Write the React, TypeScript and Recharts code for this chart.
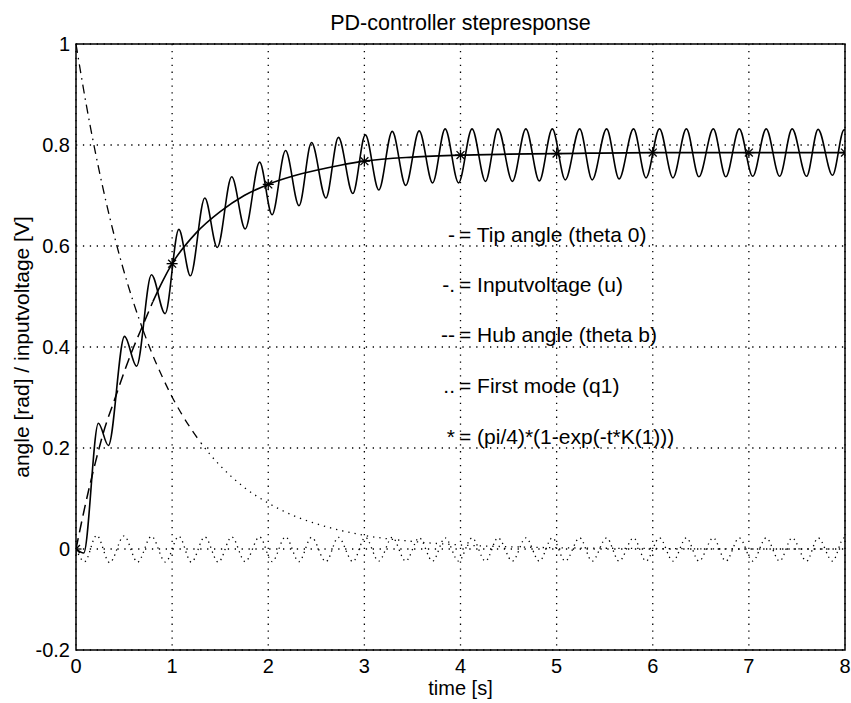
import React from 'react';
import { ComposedChart, Line, XAxis, YAxis, CartesianGrid, ReferenceArea } from 'recharts';

const W = 851;
const H = 703;
const FONT = '"Liberation Sans", Arial, Helvetica, sans-serif';

const xTicks = [0, 1, 2, 3, 4, 5, 6, 7, 8];
const yTicks = [-0.2, 0, 0.2, 0.4, 0.6, 0.8, 1];

// Tip angle (theta 0): start, then successive peaks / troughs
const tipTimes = [
  0, 0.08, 0.233, 0.337, 0.505, 0.63, 0.785, 0.927, 1.07, 1.19, 1.34, 1.47, 1.62, 1.76, 1.91, 2.04,
  2.18, 2.32, 2.45, 2.6, 2.73, 2.88, 3.01, 3.15, 3.29, 3.43, 3.57, 3.71, 3.84, 3.98, 4.12, 4.26,
  4.39, 4.54, 4.68, 4.82, 4.955, 5.09, 5.24, 5.37, 5.52, 5.65, 5.8, 5.93, 6.07, 6.21, 6.35, 6.48,
  6.63, 6.76, 6.9, 7.04, 7.18, 7.32, 7.45, 7.6, 7.72, 7.87, 7.99, 8.0,
];
const tipValues = [
  0, -0.008, 0.249, 0.205, 0.421, 0.362, 0.543, 0.466, 0.633, 0.541, 0.695, 0.597, 0.737, 0.634, 0.766, 0.662,
  0.789, 0.68, 0.805, 0.695, 0.815, 0.704, 0.82, 0.711, 0.827, 0.72, 0.828, 0.725, 0.832, 0.725, 0.832, 0.728,
  0.832, 0.728, 0.832, 0.729, 0.832, 0.731, 0.832, 0.731, 0.832, 0.733, 0.832, 0.735, 0.832, 0.735, 0.832, 0.737,
  0.832, 0.737, 0.832, 0.738, 0.832, 0.738, 0.832, 0.738, 0.831, 0.74, 0.83, 0.83,
];

// First mode (q1): start, then peaks / troughs
const q1Times = [
  0, 0.09, 0.215, 0.35, 0.5, 0.64, 0.785, 0.93, 1.07, 1.2, 1.34, 1.48, 1.62, 1.76, 1.91, 2.04,
  2.18, 2.32, 2.45, 2.6, 2.73, 2.88, 3.01, 3.15, 3.29, 3.43, 3.57, 3.71, 3.84, 3.98, 4.12, 4.26,
  4.39, 4.54, 4.68, 4.82, 4.955, 5.09, 5.24, 5.37, 5.52, 5.65, 5.8, 5.93, 6.07, 6.21, 6.35, 6.48,
  6.63, 6.76, 6.9, 7.04, 7.18, 7.32, 7.45, 7.6, 7.72, 7.87, 7.99, 8.0,
];
const q1Values = [
  0, -0.025, 0.027, -0.027, 0.026, -0.026, 0.025, -0.026, 0.025, -0.026, 0.024, -0.026, 0.024, -0.025, 0.024, -0.025,
  0.024, -0.025, 0.023, -0.025, 0.023, -0.025, 0.023, -0.024, 0.023, -0.024, 0.022, -0.024, 0.022, -0.024, 0.022, -0.024,
  0.022, -0.024, 0.022, -0.024, 0.022, -0.024, 0.022, -0.024, 0.022, -0.024, 0.022, -0.024, 0.022, -0.024, 0.022, -0.024,
  0.022, -0.024, 0.022, -0.024, 0.022, -0.024, 0.022, -0.024, 0.022, -0.024, 0.022, 0.021,
];

// Inputvoltage (u)
const inputTimes = [
  0, 0.1, 0.2, 0.3, 0.4, 0.5, 0.6, 0.7, 0.8, 0.9, 1, 1.1, 1.2, 1.3, 1.4, 1.5, 1.75, 2, 2.25, 2.5,
  2.75, 3, 3.5, 4, 4.5, 5, 6, 7, 8,
];
const inputValues = [
  1, 0.887, 0.787, 0.698, 0.619, 0.549, 0.487, 0.432, 0.383, 0.34, 0.301, 0.267, 0.237, 0.21, 0.186, 0.165, 0.122, 0.091, 0.067, 0.05,
  0.037, 0.027, 0.015, 0.008, 0.0045, 0.0025, 0.001, 0, 0,
];

// Hub angle (theta b)
const hubTimes = [
  0, 0.1, 0.2, 0.3, 0.4, 0.5, 0.6, 0.7, 0.8, 0.9, 1, 1.25, 1.5, 1.75, 2, 2.25, 2.5, 2.75, 3, 3.5,
  4, 4.5, 5, 6, 7, 8,
];
const hubValues = [
  0, 0.09, 0.17, 0.24, 0.295, 0.35, 0.4, 0.445, 0.49, 0.53, 0.565, 0.626, 0.668, 0.7, 0.722, 0.738, 0.75, 0.76, 0.768, 0.776,
  0.78, 0.782, 0.783, 0.785, 0.785, 0.785,
];

// (pi/4)*(1-exp(-t*K(1))) markers
const starTimes = [0, 1, 2, 3, 4, 5, 6, 7, 8];
const starValues = [0, 0.565, 0.722, 0.768, 0.78, 0.783, 0.785, 0.785, 0.785];

const legendPrefixes = ['-', '-.', '--', '..', '*'];
const legendTexts = [
  '= Tip angle (theta 0)',
  '= Inputvoltage (u)',
  '= Hub angle (theta b)',
  '= First mode (q1)',
  '= (pi/4)*(1-exp(-t*K(1)))',
];
const legendBaselines = [242, 292, 342, 393, 444];

const title = 'PD-controller stepresponse';
const xLabel = 'time [s]';
const yLabel = 'angle [rad] / inputvoltage [V]';

const pts = (ts: number[], vs: number[]) => ts.map((t, i) => ({ t, v: vs[i] }));

const tipData = pts(tipTimes, tipValues);
const q1Data = pts(q1Times, q1Values);
const inputData = pts(inputTimes, inputValues);
const hubData = pts(hubTimes, hubValues);
const starData = pts(starTimes, starValues);

const inputDashDot = inputData.filter((d) => d.t <= 0.7);
const inputDashed = inputData.filter((d) => d.t >= 0.7 && d.t <= 1.3);
const inputDotted = inputData.filter((d) => d.t >= 1.3);
const hubDashed = hubData.filter((d) => d.t <= 0.8);
const hubSolid = hubData.filter((d) => d.t >= 0.8);

const Asterisk = (props: any) => {
  const { cx, cy } = props;
  if (cx == null || cy == null) return null;
  const r = 5.5;
  const d = r * 0.72;
  return (
    <g stroke="#000" strokeWidth={1.3}>
      <line x1={cx - r} y1={cy} x2={cx + r} y2={cy} />
      <line x1={cx} y1={cy - r} x2={cx} y2={cy + r} />
      <line x1={cx - d} y1={cy - d} x2={cx + d} y2={cy + d} />
      <line x1={cx - d} y1={cy + d} x2={cx + d} y2={cy - d} />
    </g>
  );
};

const tickStyle = { fill: '#000', fontSize: 20, fontFamily: FONT };

export default function App() {
  return (
    <div style={{ position: 'absolute', left: 0, top: 0, width: W, height: H, background: '#fff' }}>
      <ComposedChart width={W} height={H} margin={{ top: 44, right: 6, bottom: 0, left: 0 }}>
        <CartesianGrid stroke="#000" strokeWidth={1.3} strokeDasharray="1.3 5.6" />
        <XAxis
          type="number"
          dataKey="t"
          domain={[0, 8]}
          ticks={xTicks}
          height={53}
          tickLine={false}
          axisLine={false}
          tickSize={0}
          tickMargin={9}
          tick={tickStyle}
          allowDataOverflow
        />
        <YAxis
          type="number"
          domain={[-0.2, 1]}
          ticks={yTicks}
          width={76}
          tickLine={false}
          axisLine={false}
          tickSize={0}
          tickMargin={6}
          tick={tickStyle}
          tickFormatter={(v: number) => String(v)}
          allowDataOverflow
        />
        <Line data={inputDashDot} dataKey="v" type="monotone" stroke="#000" strokeWidth={1.3} strokeDasharray="9 5 1.5 5" dot={false} activeDot={false} isAnimationActive={false} />
        <Line data={inputDashed} dataKey="v" type="monotone" stroke="#000" strokeWidth={1.3} strokeDasharray="8 6" dot={false} activeDot={false} isAnimationActive={false} />
        <Line data={inputDotted} dataKey="v" type="monotone" stroke="#000" strokeWidth={1.3} strokeDasharray="1.3 5" dot={false} activeDot={false} isAnimationActive={false} />
        <Line data={hubDashed} dataKey="v" type="monotone" stroke="#000" strokeWidth={1.5} strokeDasharray="11 6" dot={false} activeDot={false} isAnimationActive={false} />
        <Line data={hubSolid} dataKey="v" type="monotone" stroke="#000" strokeWidth={1.6} dot={false} activeDot={false} isAnimationActive={false} />
        <Line data={q1Data} dataKey="v" type="monotone" stroke="#000" strokeWidth={1.3} strokeDasharray="1.3 4" dot={false} activeDot={false} isAnimationActive={false} />
        <Line data={tipData} dataKey="v" type="monotone" stroke="#000" strokeWidth={1.6} dot={false} activeDot={false} isAnimationActive={false} />
        <Line
          data={starData}
          dataKey="v"
          stroke="none"
          dot={(p: any) => <Asterisk key={`s${p.index}`} {...p} />}
          activeDot={false}
          isAnimationActive={false}
        />
        <ReferenceArea x1={0} x2={8} y1={-0.2} y2={1} fill="none" stroke="#000" strokeWidth={1.5} fillOpacity={0} />
      </ComposedChart>
      <svg width={W} height={H} style={{ position: 'absolute', left: 0, top: 0, pointerEvents: 'none' }} fontFamily={FONT}>
        <text x={460.5} y={30} textAnchor="middle" fontSize={21.5} fill="#000">{title}</text>
        <text x={460.5} y={695} textAnchor="middle" fontSize={20} fill="#000">{xLabel}</text>
        <text x={0} y={0} transform="translate(29 347) rotate(-90)" textAnchor="middle" fontSize={21} fill="#000">{yLabel}</text>
        {legendTexts.map((txt, i) => (
          <g key={txt}>
            <text x={455} y={legendBaselines[i]} textAnchor="end" fontSize={21} fill="#000">{legendPrefixes[i]}</text>
            <text x={459} y={legendBaselines[i]} textAnchor="start" fontSize={21} fill="#000">{txt}</text>
          </g>
        ))}
      </svg>
    </div>
  );
}
